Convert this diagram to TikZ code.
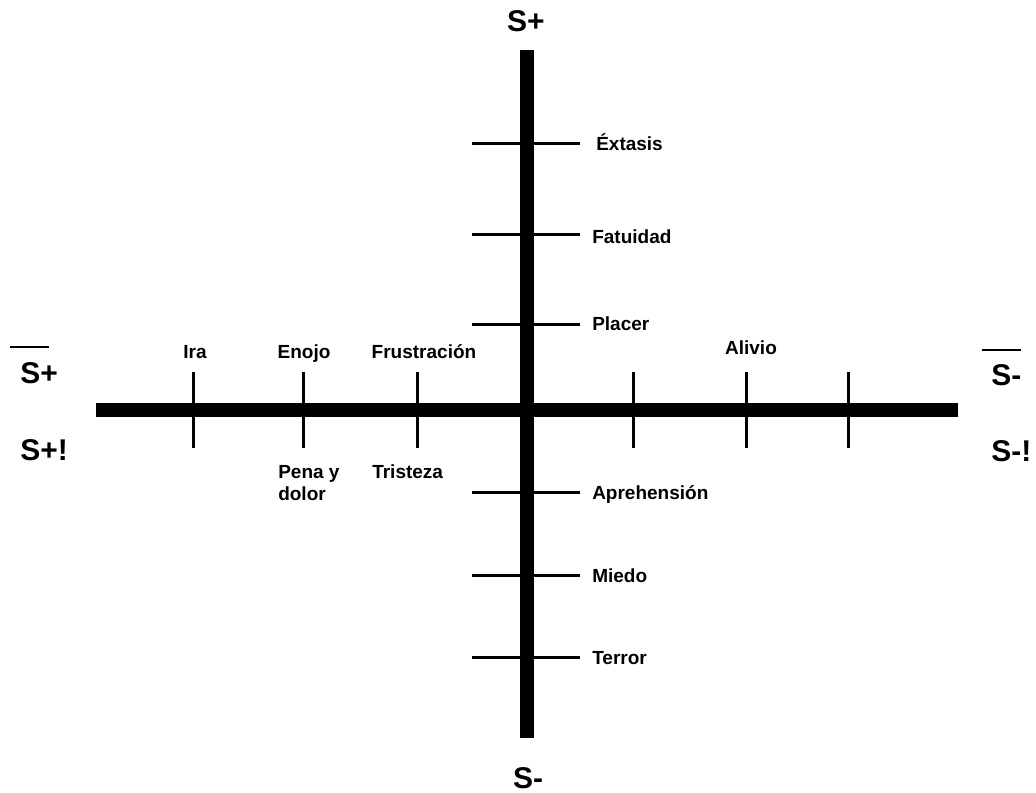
\documentclass[tikz,border=0pt]{standalone}
\usepackage{fontspec}
\setmainfont{Liberation Sans}
\begin{document}
\begin{tikzpicture}[x=0.75pt,y=-0.75pt,
  axisbar/.style={line width=10.5pt, line cap=butt},
  tickline/.style={line width=2.25pt},
  barline/.style={line width=1.6pt},
  lbl/.style={inner sep=0pt, font=\fontsize{14.25}{16.5}\selectfont\bfseries},
  biglbl/.style={inner sep=0pt, font=\fontsize{22.5}{26}\selectfont\bfseries}]
\useasboundingbox (0,0) rectangle (1036,793);
% axes
\coordinate (L) at (96,410);
\coordinate (R) at (958,410);
\coordinate (T) at (527,50);
\coordinate (B) at (527,738);
\draw[axisbar] (L) -- (R);
\draw[axisbar] (T) -- (B);
% horizontal ticks on vertical axis
\foreach \n/\y in {a/143,b/234,c/324,d/492,e/575,f/657}{
  \coordinate (h\n1) at (472,\y);
  \coordinate (h\n2) at (580,\y);
  \draw[tickline] (h\n1) -- (h\n2);
}
% vertical ticks on horizontal axis
\foreach \n/\x in {a/193,b/303,c/417,d/633,e/746,f/848}{
  \coordinate (v\n1) at (\x,372);
  \coordinate (v\n2) at (\x,448);
  \draw[tickline] (v\n1) -- (v\n2);
}
% right labels
\node[lbl,anchor=base west] (extasis) at (596,150) {Éxtasis};
\node[lbl,anchor=base west] (fatuidad) at (592,243) {Fatuidad};
\node[lbl,anchor=base west] (placer) at (592,330) {Placer};
\node[lbl,anchor=base west] (aprehension) at (592,499) {Aprehensión};
\node[lbl,anchor=base west] (miedo) at (592,582) {Miedo};
\node[lbl,anchor=base west] (terror) at (592,664) {Terror};
% top labels
\node[lbl,anchor=base] (ira) at (195,358) {Ira};
\node[lbl,anchor=base] (enojo) at (304,358) {Enojo};
\node[lbl,anchor=base] (frustracion) at (424,358) {Frustración};
\node[lbl,anchor=base] (alivio) at (751,354) {Alivio};
% bottom labels
\node[lbl,anchor=base west,align=left] (pena) at (278,500) {Pena y\\dolor};
\node[lbl,anchor=base west] (tristeza) at (372,478) {Tristeza};
% big labels
\node[biglbl,anchor=base] (stop) at (526,31) {S+};
\node[biglbl,anchor=base] (sbot) at (528,788) {S-};
\node[biglbl,anchor=base west] (sleft) at (20,383) {S+};
\node[biglbl,anchor=base west] (sleftx) at (20,460) {S+!};
\node[biglbl,anchor=base west] (sright) at (991,385) {S-};
\node[biglbl,anchor=base west] (srightx) at (991,461) {S-!};
\coordinate (olA) at (10,347);
\coordinate (olB) at (49,347);
\coordinate (orA) at (982,350);
\coordinate (orB) at (1021,350);
\draw[barline] (olA) -- (olB);
\draw[barline] (orA) -- (orB);
\end{tikzpicture}
\end{document}
